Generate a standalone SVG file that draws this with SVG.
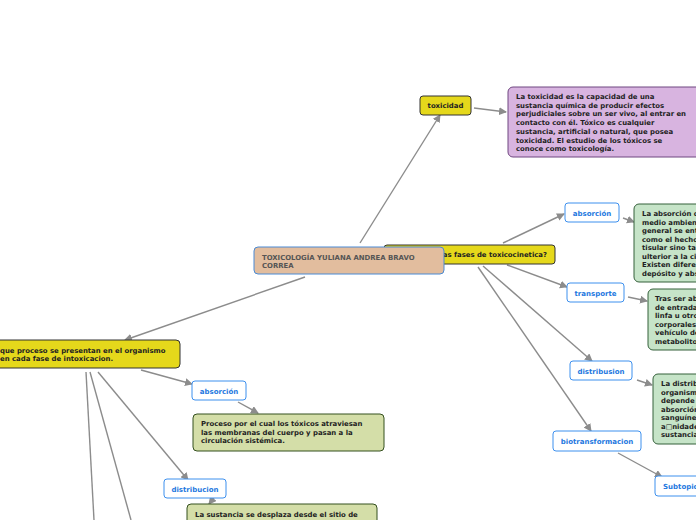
<svg xmlns="http://www.w3.org/2000/svg" width="696" height="520" viewBox="0 0 696 520">
<defs>
<marker id="ah" markerWidth="8" markerHeight="8" refX="7" refY="4" orient="auto" markerUnits="userSpaceOnUse">
<path d="M0,0 L8,4 L0,8 Z" fill="#8c8c8c"/>
</marker>
<style>
.c{stroke:#8c8c8c;stroke-width:1.4;fill:none}
.ca{stroke:#8c8c8c;stroke-width:1.4;fill:none;marker-end:url(#ah)}
.t{font-family:"DejaVu Sans",Verdana,sans-serif;font-weight:bold;font-size:6.9px;fill:#222}
.yl{fill:#e5d81b;stroke:#333;stroke-width:1}
.bl{fill:#fff;stroke:#3d90ee;stroke-width:1}
.bt{font-family:"DejaVu Sans",Verdana,sans-serif;font-weight:bold;font-size:7px;fill:#1e78e0;text-anchor:middle}
.pu{fill:#d8b4e0;stroke:#6f4680;stroke-width:1}
.gr{fill:#c6e4c8;stroke:#35603b;stroke-width:1}
.ol{fill:#d4dea8;stroke:#34501f;stroke-width:1}
</style>
</defs>
<rect width="696" height="520" fill="#fff"/>
<g id="connectors">
<path class="ca" d="M360,243 L440,115"/>
<path class="ca" d="M474,108 L506,112"/>
<path class="ca" d="M305,277 L125,340"/>
<path class="ca" d="M503,243 L564,214"/>
<path class="ca" d="M623,218 L634,222"/>
<path class="ca" d="M507,265 L567,287"/>
<path class="ca" d="M628,297 L647,301"/>
<path class="ca" d="M483,266 L592,361"/>
<path class="ca" d="M637,380 L652,385"/>
<path class="ca" d="M478,267 L591,431"/>
<path class="ca" d="M618,453 L662,477"/>
<path class="ca" d="M141,370 L192,384"/>
<path class="ca" d="M238,402 L258,413"/>
<path class="ca" d="M98,372 L188,480"/>
<path class="ca" d="M216,495 L209,504"/>
<path class="c" d="M86,372 L94,520"/>
<path class="c" d="M90,372 L131,520"/>
</g>
<g id="toxicidad">
<rect class="yl" x="420" y="96" width="51" height="19" rx="3"/>
<text class="t" x="445.5" y="108" text-anchor="middle">toxicidad</text>
</g>
<g id="toxicidad-desc">
<rect class="pu" x="508" y="87" width="196" height="70" rx="5"/>
<text class="t" x="516" y="99">La toxicidad es la capacidad de una</text>
<text class="t" x="516" y="107.7">sustancia química de producir efectos</text>
<text class="t" x="516" y="116.4">perjudiciales sobre un ser vivo, al entrar en</text>
<text class="t" x="516" y="125.1">contacto con él. Tóxico es cualquier</text>
<text class="t" x="516" y="133.8">sustancia, artificial o natural, que posea</text>
<text class="t" x="516" y="142.5">toxicidad. El estudio de los tóxicos se</text>
<text class="t" x="516" y="151.2">conoce como toxicología.</text>
</g>
<g id="fases">
<rect class="yl" x="384" y="245" width="171" height="19" rx="3"/>
<text class="t" x="547" y="257" text-anchor="end">¿cuales son las fases de toxicocinetica?</text>
</g>
<g id="central">
<rect x="254" y="247" width="190" height="27" rx="4" fill="#e2bd9e" stroke="#4a8ad4" stroke-width="1"/>
<text class="t" x="262" y="259.5" style="fill:#555">TOXICOLOGÍA YULIANA ANDREA BRAVO</text>
<text class="t" x="262" y="268" style="fill:#555">CORREA</text>
</g>
<g id="proceso">
<rect class="yl" x="-10" y="340" width="190" height="28" rx="4"/>
<text class="t" x="0" y="352.5">que proceso se presentan en el organismo</text>
<text class="t" x="0" y="361">en cada fase de intoxicacion.</text>
</g>
<g id="absorcion-r">
<rect class="bl" x="565" y="203" width="54" height="19" rx="3"/>
<text class="bt" x="592" y="215.5">absorción</text>
</g>
<g id="absorcion-r-desc">
<rect class="gr" x="634" y="204" width="80" height="78" rx="5"/>
<text class="t" x="642" y="216">La absorción de</text>
<text class="t" x="642" y="224.5">medio ambiente</text>
<text class="t" x="642" y="233">general se entiende</text>
<text class="t" x="642" y="241.5">como el hecho</text>
<text class="t" x="642" y="250">tisular sino también</text>
<text class="t" x="642" y="258.5">ulterior a la circulación</text>
<text class="t" x="642" y="267">Existen diferentes</text>
<text class="t" x="642" y="275.5">depósito y absorción</text>
</g>
<g id="transporte">
<rect class="bl" x="567" y="283" width="57" height="19" rx="3"/>
<text class="bt" x="595.5" y="295.5">transporte</text>
</g>
<g id="transporte-desc">
<rect class="gr" x="648" y="289" width="70" height="61" rx="5"/>
<text class="t" x="655" y="301">Tras ser absorbido</text>
<text class="t" x="655" y="309.5">de entrada</text>
<text class="t" x="655" y="318">linfa u otros</text>
<text class="t" x="655" y="326.5">corporales</text>
<text class="t" x="655" y="335">vehículo de</text>
<text class="t" x="655" y="343.5">metabolitos</text>
</g>
<g id="distribusion">
<rect class="bl" x="570" y="361" width="62" height="19" rx="3"/>
<text class="bt" x="601" y="373.5">distribusion</text>
</g>
<g id="distribusion-desc">
<rect class="gr" x="653" y="374" width="70" height="70" rx="5"/>
<text class="t" x="661" y="386">La distribución</text>
<text class="t" x="661" y="394.5">organismo</text>
<text class="t" x="661" y="403">depende</text>
<text class="t" x="661" y="411.5">absorción</text>
<text class="t" x="661" y="420">sanguíneo</text>
<text class="t" x="661" y="428.5">a□nidades</text>
<text class="t" x="661" y="437">sustancias</text>
</g>
<g id="biotransformacion">
<rect class="bl" x="553" y="431" width="88" height="20" rx="3"/>
<text class="bt" x="597" y="443.5">biotransformacion</text>
</g>
<g id="subtopic">
<rect class="bl" x="655" y="476" width="55" height="20" rx="3"/>
<text class="bt" x="663" y="488.5" style="text-anchor:start">Subtopic</text>
</g>
<g id="absorcion-l">
<rect class="bl" x="192" y="381" width="54" height="19" rx="3"/>
<text class="bt" x="219" y="393.5">absorción</text>
</g>
<g id="absorcion-l-desc">
<rect class="ol" x="193" y="414" width="191" height="37" rx="4"/>
<text class="t" x="201" y="426">Proceso por el cual los tóxicos atraviesan</text>
<text class="t" x="201" y="434.5">las membranas del cuerpo y pasan a la</text>
<text class="t" x="201" y="443">circulación sistémica.</text>
</g>
<g id="distribucion-l">
<rect class="bl" x="164" y="479" width="62" height="19" rx="3"/>
<text class="bt" x="195" y="491.5">distribucion</text>
</g>
<g id="distribucion-l-desc">
<rect class="ol" x="187" y="504" width="190" height="30" rx="4"/>
<text class="t" x="195" y="516.5">La sustancia se desplaza desde el sitio de</text>
</g>
</svg>
